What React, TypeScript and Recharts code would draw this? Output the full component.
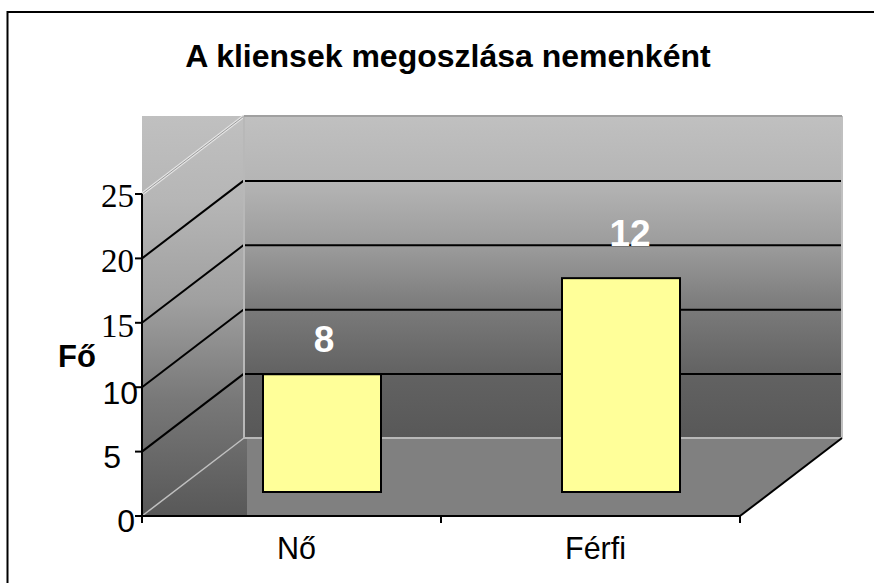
import React from "react";
import { BarChart, Bar, XAxis, YAxis, Customized } from "recharts";

const categories = ["Nő", "Férfi"];
// Bar heights as they are drawn against the axis
const barHeights = [9.22, 16.68];
// The data labels printed in the picture
const dataLabels = ["8", "12"];
const yTicks = [0, 5, 10, 15, 20, 25];
const rows = categories.map((name, i) => ({ name, value: barHeights[i], label: dataLabels[i] }));

const W = 874;
const H = 583;
const LEFT = 142;
const RIGHT = 740;
const TOP = 194;
const BOTTOM = 516;
const DX = 102;
const DY = 78;
const MAX = 25;
const SANS = "'Liberation Sans', Arial, sans-serif";
const SERIF = "'Liberation Serif', 'Times New Roman', serif";

const yOf = (v: number) => BOTTOM - ((BOTTOM - TOP) * v) / MAX;
const bandW = (RIGHT - LEFT) / categories.length;
const BAR_DX = 30;
const BAR_DY = 24;

const tickLook: Record<number, { font: string; right: number; size: number; drop: number }> = {
  25: { font: SERIF, right: 134, size: 33, drop: 13 },
  20: { font: SERIF, right: 134, size: 33, drop: 14 },
  15: { font: SERIF, right: 134, size: 33, drop: 14 },
  10: { font: SANS, right: 138, size: 32, drop: 17 },
  5: { font: SANS, right: 121, size: 32, drop: 16 },
  0: { font: SANS, right: 135, size: 32, drop: 16 },
};
const labelLift = [33, 43];
const labelShift = [2, 9];

const backStops: [number, string][] = [
  [0, "#c0c0c0"],
  [0.2, "#b5b5b5"],
  [0.4, "#9c9c9c"],
  [0.6, "#7a7a7a"],
  [0.8, "#626262"],
  [1, "#585858"],
];
const sideStops: [number, string][] = [
  [0, "#c0c0c0"],
  [0.21, "#b6b6b6"],
  [0.46, "#a0a0a0"],
  [0.71, "#787878"],
  [1, "#585858"],
];

function Scene() {
  const backL = LEFT + DX + 1;
  const backR = RIGHT + DX;
  const backB = BOTTOM - DY;
  const backT = yOf(MAX) - DY;
  return (
    <g>
      <defs>
        <linearGradient id="back" gradientUnits="userSpaceOnUse" x1="0" x2="0" y1={backT} y2={backB}>
          {backStops.map(([o, c]) => (
            <stop key={o} offset={o} stopColor={c} />
          ))}
        </linearGradient>
        <linearGradient id="side" gradientUnits="userSpaceOnUse" x1="0" x2="0" y1={backT} y2={BOTTOM}>
          {sideStops.map(([o, c]) => (
            <stop key={o} offset={o} stopColor={c} />
          ))}
        </linearGradient>
      </defs>
      <rect x={7.5} y={12} width={W + 20} height={H + 20} fill="#fff" stroke="#000" strokeWidth={2} />
      <rect x={LEFT} y={backT} width={DX + 4} height={BOTTOM - backT} fill="url(#side)" />
      <rect x={backL} y={backT} width={backR - backL} height={backB - backT} fill="url(#back)" />
      <polygon
        points={`${backL + 2},${backB} ${backR},${backB} ${RIGHT},${BOTTOM} ${backL + 2},${BOTTOM}`}
        fill="#808080"
      />
      {yTicks.filter((v) => v > 0 && v < MAX).map((v) => (
        <g key={v}>
          <line x1={LEFT} y1={yOf(v)} x2={LEFT + DX} y2={yOf(v) - DY} stroke="#000" strokeWidth={2} />
          <line x1={LEFT + DX} y1={yOf(v) - DY + 0.5} x2={backR} y2={yOf(v) - DY + 0.5} stroke="#000" strokeWidth={2} />
        </g>
      ))}
      <line x1={LEFT} y1={yOf(MAX)} x2={LEFT + DX} y2={backT} stroke="#e4e4e4" strokeWidth={3} />
      <line x1={LEFT} y1={yOf(MAX)} x2={LEFT + DX} y2={backT} stroke="#9a9a9a" strokeWidth={1} />
      <line x1={LEFT} y1={BOTTOM} x2={LEFT + DX} y2={backB} stroke="#c0c0c0" strokeWidth={1.5} />
      <line x1={LEFT + DX} y1={backT} x2={LEFT + DX} y2={backB} stroke="#b8b8b8" strokeWidth={2} />
      <line x1={backR} y1={backT} x2={backR} y2={backB} stroke="#c0c0c0" strokeWidth={2} />
      <line x1={LEFT + DX} y1={backT} x2={backR} y2={backT} stroke="#a0a0a0" strokeWidth={2} />
      <line x1={LEFT + DX} y1={backB} x2={backR} y2={backB} stroke="#b8b8b8" strokeWidth={2} />
      <line x1={RIGHT} y1={BOTTOM} x2={backR} y2={backB} stroke="#000" strokeWidth={2} />
      <text x={448} y={67} textAnchor="middle" fontFamily={SANS} fontWeight="bold" fontSize={32} fill="#000">
        A kliensek megoszlása nemenként
      </text>
      <text x={58} y={367} fontFamily={SANS} fontWeight="bold" fontSize={31} fill="#000">
        Fő
      </text>
    </g>
  );
}

function YTick(props: any) {
  const { y, payload } = props;
  const look = tickLook[payload.value] || { font: SANS, right: 134, size: 32, drop: 14 };
  return (
    <text
      x={look.right}
      y={y + look.drop}
      textAnchor="end"
      style={{ fontFamily: look.font, fontSize: look.size }}
      fill="#000"
    >
      {payload.value}
    </text>
  );
}

function XTick(props: any) {
  const { x, payload, index } = props;
  return (
    <g>
      <text x={x + 5} y={559} textAnchor="middle" fontFamily={SANS} fontSize={30.5} fill="#000">
        {payload.value}
      </text>
      {index === 0 && <line x1={x - bandW / 2} y1={BOTTOM} x2={x - bandW / 2} y2={BOTTOM + 7} stroke="#000" strokeWidth={2} />}
      <line x1={x + bandW / 2} y1={BOTTOM} x2={x + bandW / 2} y2={BOTTOM + 7} stroke="#000" strokeWidth={2} />
    </g>
  );
}

function BarShape(props: any) {
  const { x, y, width, height } = props;
  return (
    <rect
      x={x + BAR_DX + 1}
      y={y - BAR_DY + 1}
      width={width - 2}
      height={height - 1}
      fill="#ffff99"
      stroke="#000"
      strokeWidth={2}
    />
  );
}

function BarLabel(props: any) {
  const { x, y, width, index } = props;
  return (
    <text
      x={x + width / 2 + BAR_DX + labelShift[index]}
      y={y - BAR_DY - labelLift[index] + 12}
      textAnchor="middle"
      fontFamily={SANS}
      fontWeight="bold"
      fontSize={37}
      fill="#fff"
    >
      {dataLabels[index]}
    </text>
  );
}

export default function App() {
  return (
    <div style={{ position: "absolute", left: 0, top: 0, width: W, height: H }}>
      <BarChart
        width={W}
        height={H}
        data={rows}
        barCategoryGap={0}
        margin={{ left: LEFT - 60, right: W - RIGHT, top: TOP, bottom: H - BOTTOM - 40 }}
      >
        <Customized component={Scene} />
        <XAxis
          dataKey="name"
          height={40}
          axisLine={{ stroke: "#000", strokeWidth: 2 }}
          tickLine={false}
          tick={<XTick />}
          interval={0}
        />
        <YAxis
          width={60}
          domain={[0, MAX]}
          ticks={yTicks}
          interval={0}
          axisLine={{ stroke: "#000", strokeWidth: 2 }}
          tickLine={{ stroke: "#000", strokeWidth: 2 }}
          tickSize={7}
          tick={<YTick />}
        />
        <Bar dataKey="value" barSize={120} isAnimationActive={false} shape={<BarShape />} label={<BarLabel />} />
      </BarChart>
    </div>
  );
}
